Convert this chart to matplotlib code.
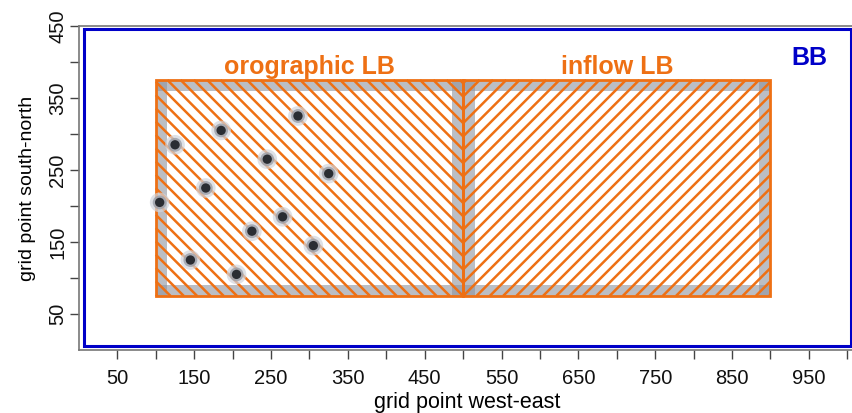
import matplotlib
matplotlib.use("Agg")
import matplotlib.pyplot as plt
import numpy as np
from matplotlib.patches import Rectangle
from matplotlib.collections import LineCollection

plt.rcParams['font.family'] = ['Liberation Sans', 'DejaVu Sans']

# ---- data ----
x_major = [50, 150, 250, 350, 450, 550, 650, 750, 850, 950]
x_minor = [100, 200, 300, 400, 500, 600, 700, 800, 900, 1000]
y_major = [50, 150, 250, 350, 450]
y_minor = [100, 200, 300, 400]

bb_box = (7, 5, 1005, 446)              # x0, y0, x1, y1
oro_box = (100, 75, 500, 375)
inflow_box = (500, 75, 900, 375)
band = 15                               # grey inner band width

pts_x = [105, 125, 185, 285, 245, 325, 165, 265, 225, 305, 145, 205]
pts_y = [205, 285, 305, 325, 265, 245, 225, 185, 165, 145, 125, 105]

orange = '#ee7014'
blue = '#0000c8'

fig = plt.figure(figsize=(8.52, 4.13), dpi=100)
W, H = 852, 413
ax = fig.add_axes([79 / W, 63 / H, 776 / W, 324 / H])
xmin, xmax, ymin, ymax = 0, 1010, 0, 450
ax.set_xlim(xmin, xmax)
ax.set_ylim(ymin, ymax)

# blue BB box
ax.add_patch(Rectangle((bb_box[0], bb_box[1]), bb_box[2] - bb_box[0], bb_box[3] - bb_box[1],
                       fill=False, edgecolor=blue, lw=2.2, zorder=2))

# pixel scale for 45-degree hatching
sx = 776 / (xmax - xmin)
sy = 324 / (ymax - ymin)
k = sx / sy
step = 13.3 / sx


def draw_box(box, direction):
    x0, y0, x1, y1 = box
    h = y1 - y0
    # grey bands (semi-transparent, overlapping at corners)
    gk = dict(facecolor='#8e939e', edgecolor='none', alpha=0.6, zorder=3)
    ax.add_patch(Rectangle((x0, y0), band, h, **gk))
    ax.add_patch(Rectangle((x1 - band, y0), band, h, **gk))
    ax.add_patch(Rectangle((x0, y0), x1 - x0, band, **gk))
    ax.add_patch(Rectangle((x0, y1 - band), x1 - x0, band, **gk))
    # hatching, clipped analytically to the box
    segs = []
    for j in range(-80, 80):
        c = 500 + j * step
        if direction > 0:
            ya = max(y0, y0 + k * (x0 - c))
            yb = min(y1, y0 + k * (x1 - c))
            if yb > ya:
                segs.append([(c + (ya - y0) / k, ya), (c + (yb - y0) / k, yb)])
        else:
            ya = max(y0, y0 + k * (c - x1))
            yb = min(y1, y0 + k * (c - x0))
            if yb > ya:
                segs.append([(c - (ya - y0) / k, ya), (c - (yb - y0) / k, yb)])
    lc = LineCollection(segs, colors=orange, linewidths=1.8, zorder=4)
    ax.add_collection(lc)
    ax.add_patch(Rectangle((x0, y0), x1 - x0, h, fill=False, edgecolor=orange, lw=2.0, zorder=6))


draw_box(oro_box, -1)
draw_box(inflow_box, 1)

# dots with halo
ax.scatter(pts_x, pts_y, s=200, color='#d2d5dc', alpha=0.7, edgecolors='none', zorder=7)
ax.scatter(pts_x, pts_y, s=100, color='#9a9ea8', alpha=0.8, edgecolors='none', zorder=7)
ax.scatter(pts_x, pts_y, s=45, color='#2a2d33', edgecolors='none', zorder=8)

# labels inside
ax.text(300, 384, 'orographic LB', color=orange, fontsize=18, fontweight='bold',
        ha='center', va='baseline', zorder=9)
ax.text(700, 384, 'inflow LB', color=orange, fontsize=18, fontweight='bold',
        ha='center', va='baseline', zorder=9)
ax.text(950, 396, 'BB', color=blue, fontsize=18, fontweight='bold',
        ha='center', va='baseline', zorder=9)

# axes styling
for s in ['left', 'bottom', 'top']:
    ax.spines[s].set_color('#777777')
    ax.spines[s].set_linewidth(1.2)
ax.spines['right'].set_visible(False)

xt = sorted(x_major + x_minor)
ax.set_xticks(xt)
ax.set_xticklabels([str(v) if v in x_major else '' for v in xt])
yt = sorted(y_major + y_minor)
ax.set_yticks(yt)
ax.set_yticklabels([str(v) if v in y_major else '' for v in yt], rotation=90, va='center')
ax.tick_params(axis='both', direction='out', length=6.5, width=1.0, color='#444444',
               labelsize=14.5, labelcolor='#111111')
ax.tick_params(axis='x', pad=7)
ax.tick_params(axis='y', pad=2)

ax.set_xlabel('grid point west-east', fontsize=15.5, labelpad=3)
ax.set_ylabel('grid point south-north', fontsize=14, labelpad=9)

fig.savefig('out.png', dpi=100)
